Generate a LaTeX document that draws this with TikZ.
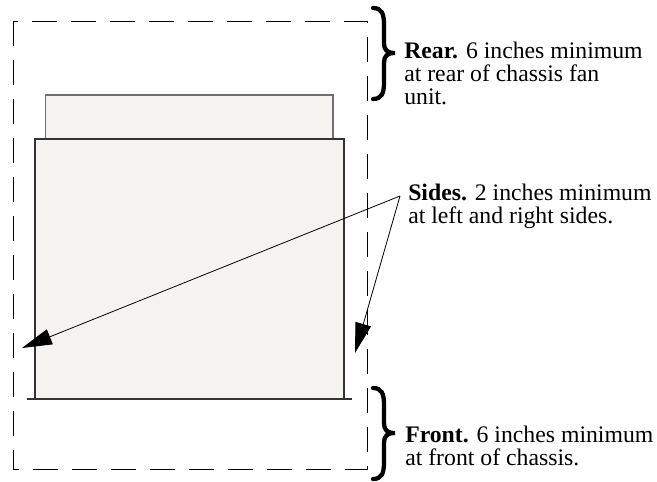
\documentclass[tikz,border=0pt]{standalone}
\usepackage{fontspec}
\setmainfont{Liberation Serif}
\usetikzlibrary{arrows.meta}
\definecolor{boxfill}{HTML}{F4F3EF}
\definecolor{boxline}{HTML}{333333}
\definecolor{fanline}{HTML}{707070}
\tikzset{
  clearance/.style={draw=black, line width=0.75pt, dash pattern=on 18.75pt off 10.5pt},
  chassis/.style={draw=boxline, fill=boxfill, line width=1.4pt},
  fanbox/.style={draw=fanline, fill=boxfill, line width=0.8pt},
  bigbrace/.style={draw=black, line width=3.2pt, line cap=round},
  note/.style={anchor=base west, inner sep=0pt, align=left, font=\fontsize{17.8pt}{17pt}\selectfont},
  pointer/.style={draw=black, line width=0.6pt, -{Triangle[length=22.5pt,width=12pt]}}
}
\begin{document}
\begin{tikzpicture}[x=0.75pt,y=-0.75pt]
\useasboundingbox (0,0) rectangle (657,482);
% clearance outline
\draw[clearance, dash phase=0pt] (13,21) rectangle (367,469);
% fan unit
\path[fanbox] (45.5,95) rectangle (333,139);
% chassis
\path[chassis] (35,139) rectangle (344,399);
\draw[draw=boxline, line width=1.4pt] (27,399) -- (352,399);
% braces
\draw[bigbrace] (373,8) .. controls (382,8) and (384,14) .. (384,25) -- (384,43)
  .. controls (384,50) and (387,53) .. (395,53)
  .. controls (387,53) and (384,56) .. (384,63) -- (384,82)
  .. controls (384,93) and (382,99) .. (373,99);
\draw[bigbrace] (373,388) .. controls (382,388) and (384,394) .. (384,405) -- (384,423)
  .. controls (384,430) and (387,433) .. (395,433)
  .. controls (387,433) and (384,436) .. (384,443) -- (384,462)
  .. controls (384,473) and (382,479) .. (373,479);
% notes (base anchor = baseline of last line)
\node[note] (rear) at (404,104) {\textbf{Rear.} 6 inches minimum\\at rear of chassis fan\\unit.};
\node[note] (sides) at (408,223) {\textbf{Sides.} 2 inches minimum\\at left and right sides.};
\node[note] (front) at (405,465) {\textbf{Front.} 6 inches minimum\\at front of chassis.};
% pointers
\coordinate (src) at (400,196);
\coordinate (ltip) at (22,348);
\coordinate (rtip) at (355,353);
\draw[pointer] (src) -- (ltip);
\draw[pointer] (src) -- (rtip);
\end{tikzpicture}
\end{document}
